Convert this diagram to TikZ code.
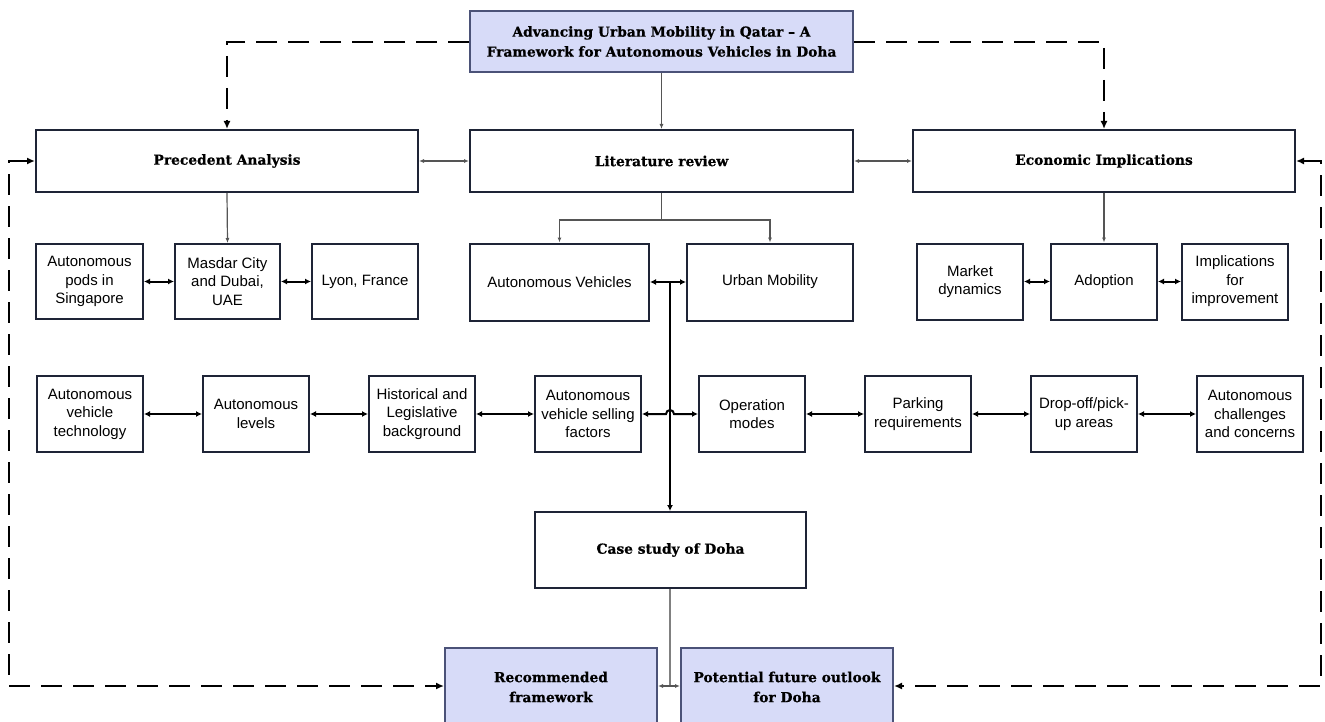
\documentclass[tikz,border=0pt]{standalone}
\usepackage{fontspec}
\setmainfont{Liberation Sans}
\newfontfamily\slab[BoldFeatures={FakeBold=0.6}]{DejaVu Serif}
\usetikzlibrary{arrows.meta}
\definecolor{navy}{RGB}{30,36,54}
\definecolor{bluegray}{RGB}{75,82,120}
\definecolor{lav}{RGB}{215,219,248}
\definecolor{thin}{RGB}{85,85,85}
\tikzset{
  box/.style={draw=navy, line width=2pt, fill=white, inner sep=0pt, align=center,
    font=\fontsize{15}{18.5}\selectfont},
  hbox/.style={box, font=\slab\bfseries\fontsize{13.8}{20}\selectfont},
  tbox/.style={hbox, draw=bluegray, fill=lav},
  thinline/.style={draw=thin, line width=1.2pt},
  thinarr/.style={thinline, -{Latex[length=5pt,width=4pt]}},
  thindbl/.style={thinline, {Latex[length=5pt,width=4pt]}-{Latex[length=5pt,width=4pt]}},
  dbl/.style={draw=black, line width=2pt, {Latex[length=6pt,width=6pt]}-{Latex[length=6pt,width=6pt]}},
  darr/.style={draw=black, line width=2pt, -{Latex[length=6pt,width=6pt]}},
  dashline/.style={draw=black, line width=2.7pt, dash pattern=on 21pt off 11pt},
  dashtip/.style={dashline, -{Latex[length=8pt,width=7pt]}},
  dashdbl/.style={dashline, {Latex[length=8pt,width=7pt]}-{Latex[length=8pt,width=7pt]}}
}
\begin{document}
\begin{tikzpicture}[x=1pt,y=-1pt]
\useasboundingbox (0,0) rectangle (1325,722);
% top
\node[tbox, minimum width=383pt, minimum height=61pt] (title) at (661.5,41.5)
  {Advancing Urban Mobility in Qatar – A\\Framework for Autonomous Vehicles in Doha};
\node[hbox, minimum width=382pt, minimum height=62pt] (prec) at (227,161) {Precedent Analysis};
\node[hbox, minimum width=383pt, minimum height=62pt] (lit) at (661.5,161) {Literature review};
\node[hbox, minimum width=382pt, minimum height=62pt] (econ) at (1104,161) {Economic Implications};
% row 2
\node[box, minimum width=107pt, minimum height=75pt] (pods) at (89.5,281.5) {Autonomous\\pods in\\Singapore};
\node[box, minimum width=105pt, minimum height=75pt] (masdar) at (227.5,281.5) {Masdar City\\and Dubai,\\UAE};
\node[box, minimum width=106pt, minimum height=75pt] (lyon) at (365,281.5) {Lyon, France};
\node[box, minimum width=179pt, minimum height=77pt] (av) at (559.5,282) {Autonomous Vehicles};
\node[box, minimum width=166pt, minimum height=77pt] (um) at (770,282) {Urban Mobility};
\node[box, minimum width=106pt, minimum height=76pt] (market) at (970,281.5) {Market\\dynamics};
\node[box, minimum width=106pt, minimum height=76pt] (adopt) at (1104,281.5) {Adoption};
\node[box, minimum width=106pt, minimum height=76pt] (impl) at (1235,281.5) {Implications\\for\\improvement};
% row 3
\tikzset{r3/.style={box, minimum width=106pt, minimum height=76pt}}
\node[r3] (avt) at (90,414) {Autonomous\\vehicle\\technology};
\node[r3] (lvl) at (256,414) {Autonomous\\levels};
\node[r3] (hist) at (422,414) {Historical and\\Legislative\\background};
\node[r3] (sell) at (588,414) {Autonomous\\vehicle selling\\factors};
\node[r3] (ops) at (752,414) {Operation\\modes};
\node[r3] (park) at (918,414) {Parking\\requirements};
\node[r3] (drop) at (1084,414) {Drop-off/pick-\\up areas};
\node[r3] (chal) at (1250,414) {Autonomous\\challenges\\and concerns};
% case and bottom
\node[hbox, minimum width=271pt, minimum height=76pt] (case) at (670.5,550) {Case study of Doha};
\node[tbox, minimum width=212pt, minimum height=78pt] (rec) at (551,687) {Recommended\\framework};
\node[tbox, minimum width=212pt, minimum height=78pt] (pot) at (787,687) {Potential future outlook\\for Doha};
% coordinates
\coordinate (tl) at (227,42);
\coordinate (tr) at (1104,42);
\coordinate (lt) at (9,161);
\coordinate (lb) at (9,686);
\coordinate (rt) at (1321,161);
\coordinate (rb) at (1321,686);
\coordinate (J) at (670,282);
\coordinate (hop1) at (666,414);
\coordinate (hop2) at (674,414);
\coordinate (cb) at (670,686);
% dashed connectors
\draw[dashtip] (title.west |- tl) -- (tl) -- (prec.north -| tl);
\draw[dashtip] (title.east |- tr) -- (tr) -- (econ.north -| tr);
\draw[dashdbl] (prec.west |- lt) -- (lt) -- (lb) -- (rec.west |- lb);
\draw[dashdbl] (econ.east |- rt) -- (rt) -- (rb) -- (pot.east |- rb);
% thin connectors
\draw[thinarr] (title.south) -- (lit.north);
\draw[thindbl] (prec.east |- lt) -- (lit.west |- lt);
\draw[thindbl] (lit.east |- lt) -- (econ.west |- lt);
\draw[thinarr] (prec.south) -- (masdar.north);
\draw[thinarr] (econ.south) -- (adopt.north);
\draw[thinarr] (lit.south) -- ++(0,27) -| (av.north);
\draw[thinarr] (lit.south) ++(0,27) -| (um.north);
% row 2 arrows
\draw[dbl] (pods) -- (masdar);
\draw[dbl] (masdar) -- (lyon);
\draw[dbl] (market) -- (adopt);
\draw[dbl] (adopt) -- (impl);
\draw[dbl] (av.east |- J) -- (J) -- (um.west |- J);
\draw[darr] (J) -- (case.north -| J);
% row 3 arrows
\draw[dbl] (avt) -- (lvl);
\draw[dbl] (lvl) -- (hist);
\draw[dbl] (hist) -- (sell);
\draw[dbl] (sell.east |- hop1) -- (hop1) arc[start angle=180, end angle=0, radius=4pt] -- (ops.west |- hop2);
\draw[dbl] (ops) -- (park);
\draw[dbl] (park) -- (drop);
\draw[dbl] (drop) -- (chal);
% bottom
\draw[thinline, draw=gray] (case.south -| cb) -- (cb);
\draw[thindbl] (rec.east |- cb) -- (pot.west |- cb);
\end{tikzpicture}
\end{document}
